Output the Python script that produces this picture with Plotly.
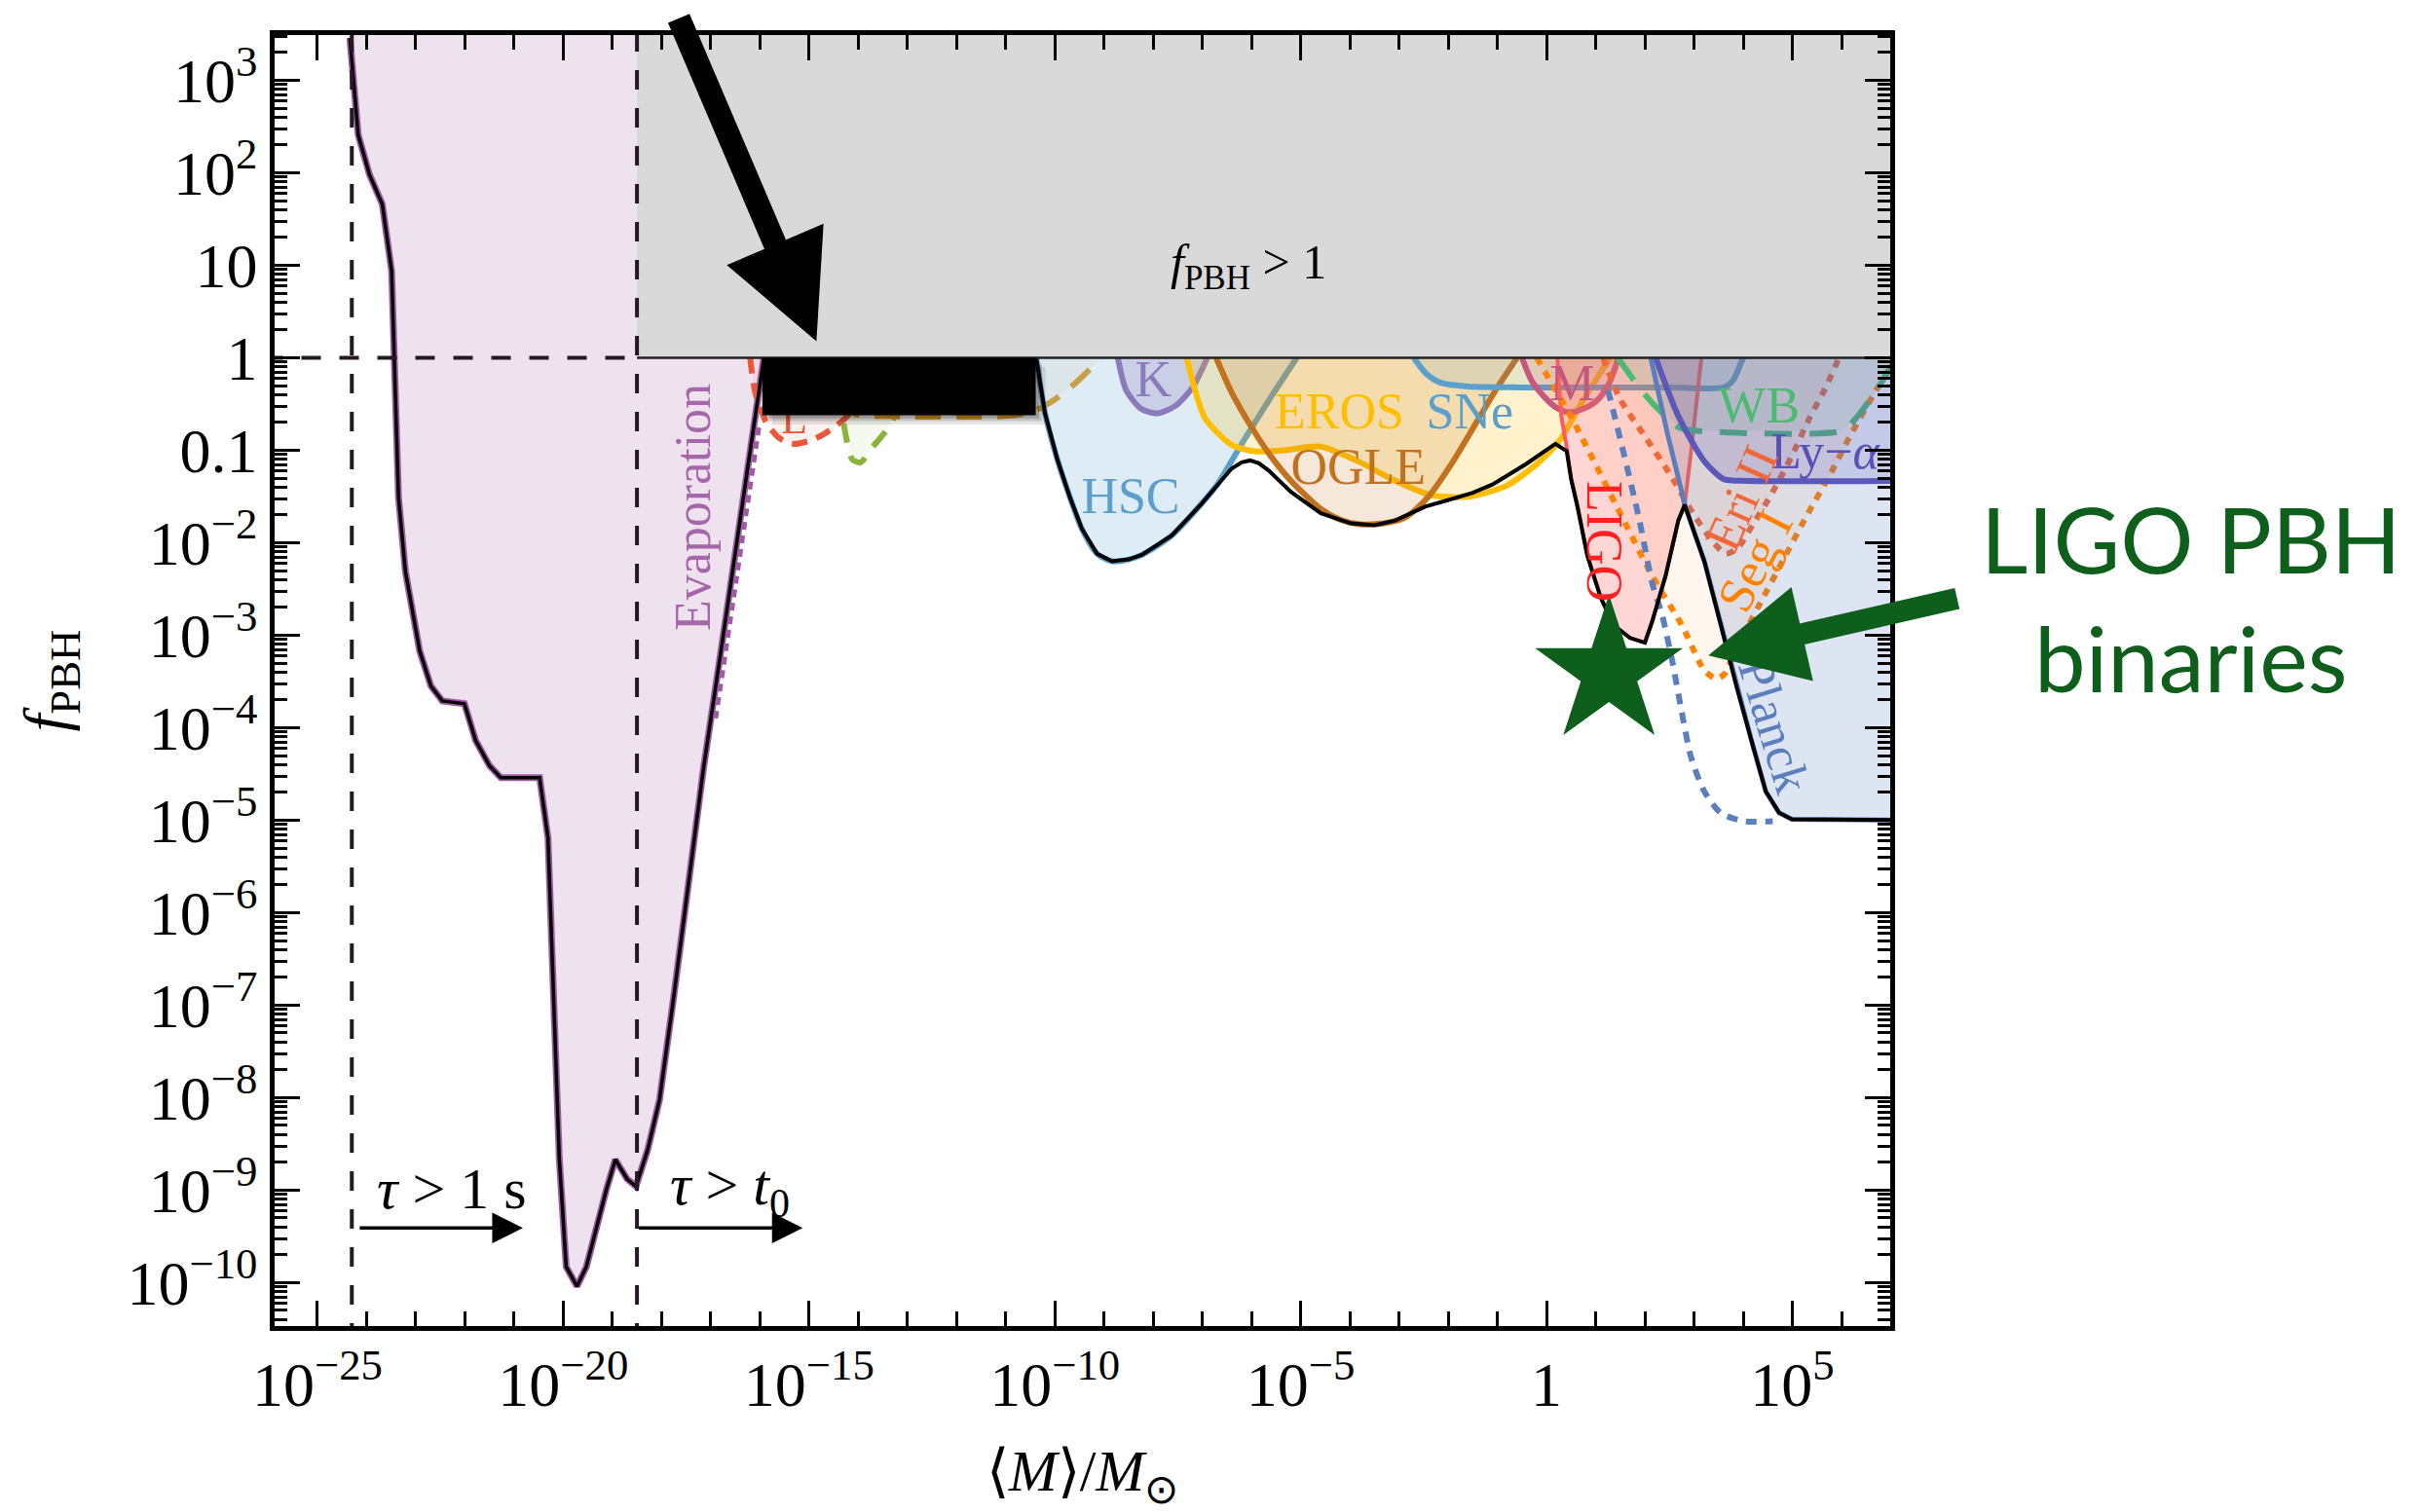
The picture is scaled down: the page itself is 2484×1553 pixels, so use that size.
import numpy as np
import plotly.graph_objects as go

# ---------------------------------------------------------------- data
# every value below is log10(<M>/Msun) (…_lm) or log10(f_PBH) (…_lf)
evap_lm = [-24.36, -24.34, -24.17, -23.94, -23.68, -23.49, -23.43, -23.35, -23.21, -22.92, -22.69,
           -22.46, -22.01, -21.78, -21.50, -21.27, -20.48, -20.31, -20.08, -19.94, -19.72, -19.53,
           -19.12, -18.94, -18.70, -18.52, -18.28, -18.04, -17.75, -17.45, -17.15, -16.80, -16.40,
           -16.00, -15.92, -15.90]
evap_lf = [3.6, 3.46, 2.41, 1.98, 1.66, 0.94, 0.0, -1.51, -2.31, -3.17, -3.55,
           -3.71, -3.74, -4.14, -4.41, -4.54, -4.54, -5.19, -8.66, -9.83, -10.04, -9.83,
           -8.99, -8.67, -8.88, -8.96, -8.56, -8.02, -6.90, -5.70, -4.45, -3.20, -1.75,
           -0.30, 0.0, 0.3]
evapdash_lm = [-16.90, -16.02]
evapdash_lf = [-3.90, -0.75]

L_lm = [-16.20, -16.10, -15.87, -15.60, -15.34, -15.00, -14.68, -14.22, -13.95, -13.85]
L_lf = [0.0, -0.36, -0.70, -0.87, -0.93, -0.90, -0.82, -0.63, -0.35, 0.0]
grn_lm = [-14.45, -14.35, -14.25, -14.12, -13.95, -13.70, -13.45, -13.26, -13.00, -12.85]
grn_lf = [0.0, -0.50, -0.85, -1.10, -1.13, -0.96, -0.80, -0.63, -0.30, 0.0]
gold_lm = [-14.50, -14.35, -14.10, -13.50, -11.00, -10.60, -10.36, -10.00, -9.66, -9.30, -9.07]
gold_lf = [0.0, -0.40, -0.60, -0.63, -0.63, -0.60, -0.56, -0.45, -0.31, -0.13, 0.0]

hsc_lm = [-10.38, -10.20, -9.95, -9.70, -9.45, -9.14, -8.84, -8.50, -8.23, -7.62, -7.02, -6.67,
          -6.20, -5.60, -5.08]
hsc_lf = [0.0, -0.60, -1.10, -1.50, -1.85, -2.12, -2.20, -2.18, -2.13, -1.92, -1.58, -1.35,
          -0.93, -0.42, 0.0]
k_lm = [-8.72, -8.55, -8.25, -7.92, -7.55, -7.20, -6.90]
k_lf = [0.0, -0.35, -0.55, -0.60, -0.52, -0.32, 0.0]
eros_lm = [-7.32, -7.15, -6.94, -6.41, -5.95, -5.35, -4.59, -3.83, -3.08, -2.32, -1.56, -0.80,
           -0.20, 0.26, 0.70, 1.05, 1.30]
eros_lf = [0.0, -0.35, -0.66, -0.94, -1.01, -1.00, -0.96, -1.12, -1.33, -1.49, -1.50, -1.38,
           -1.15, -0.90, -0.50, -0.20, 0.0]
ogle_lm = [-6.72, -6.40, -6.00, -5.60, -5.20, -4.60, -4.20, -3.80, -3.30, -2.85, -2.40, -1.90,
           -1.45, -1.00, -0.60]
ogle_lf = [0.0, -0.38, -0.75, -1.07, -1.33, -1.63, -1.75, -1.80, -1.79, -1.72, -1.50, -1.12,
           -0.72, -0.32, 0.0]
sne_lm = [-2.70, -2.45, -2.15, -1.60, -0.50, 1.00, 2.50, 3.60, 3.80, 3.96, 4.00]
sne_lf = [0.0, -0.17, -0.27, -0.31, -0.32, -0.32, -0.32, -0.32, -0.24, -0.05, 0.0]
macho_lm = [-0.50, -0.30, -0.05, 0.20, 0.45, 0.75, 1.03, 1.25, 1.40, 1.45]
macho_lf = [0.0, -0.25, -0.42, -0.54, -0.59, -0.55, -0.46, -0.30, -0.10, 0.0]
ligo_lm = [0.22, 0.30, 0.42, 0.50, 0.63, 0.83, 1.10, 1.36, 1.70, 2.00, 2.15, 2.42, 2.68, 2.81,
           2.94, 3.05, 3.15]
ligo_lf = [0.0, -0.63, -1.00, -1.31, -1.61, -2.14, -2.59, -2.89, -3.03, -3.08, -2.85, -2.36,
           -1.76, -1.59, -1.01, -0.50, 0.0]
seg_lm = [-0.20, 0.57, 1.43, 2.15, 2.75, 3.21, 3.45, 3.62, 3.85, 4.30, 4.80, 5.30, 5.75, 6.20,
          6.65, 7.00, 7.30]
seg_lf = [0.0, -0.71, -1.61, -2.36, -2.89, -3.38, -3.47, -3.42, -3.15, -2.70, -2.20, -1.70,
          -1.28, -0.82, -0.40, -0.08, 0.3]
eri_lm = [1.15, 1.50, 2.00, 2.50, 3.00, 3.40, 3.65, 3.90, 4.20, 4.60, 5.00, 5.35, 5.65, 5.95]
eri_lf = [0.0, -0.45, -0.85, -1.25, -1.70, -2.00, -2.12, -2.05, -1.80, -1.45, -1.05, -0.65,
          -0.35, 0.0]
bdot_lm = [1.25, 1.56, 1.89, 2.15, 2.35, 2.55, 2.75, 2.94, 3.21, 3.54, 4.00, 4.60]
bdot_lf = [-0.35, -1.01, -1.76, -2.44, -2.78, -3.26, -3.83, -4.32, -4.69, -4.92, -5.01, -5.01]
wb_lm = [1.45, 2.02, 2.68, 3.08, 6.00, 6.30, 6.62, 6.95, 7.10]
wb_lf = [0.0, -0.41, -0.75, -0.79, -0.79, -0.65, -0.42, -0.15, 0.0]
lya_lm = [2.22, 2.68, 3.21, 3.60, 3.96, 7.20]
lya_lf = [0.0, -0.63, -1.12, -1.31, -1.33, -1.33]
planck_lm = [2.12, 2.45, 2.75, 2.81, 3.21, 3.54, 3.87, 4.20, 4.46, 4.73, 4.99, 7.20]
planck_lf = [0.0, -0.80, -1.45, -1.59, -2.20, -2.88, -3.57, -4.20, -4.69, -4.92, -4.99, -5.00]

# combined bound (black curve)
env_lm = [-10.38, -10.20, -9.95, -9.70, -9.45, -9.14, -8.84, -8.50, -8.23, -7.62, -7.02, -6.65,
          -6.41, -6.20, -6.03, -5.85, -5.65, -5.20, -4.59, -3.98, -3.50, -3.08, -2.47, -2.01,
          -1.50, -1.10, -0.42, 0.18, 0.41, 0.50, 0.63, 0.83, 1.10, 1.36, 1.70, 2.00, 2.15, 2.42,
          2.68, 2.81, 3.21, 3.54, 3.87, 4.20, 4.46, 4.73, 4.99, 7.20]
env_lf = [0.0, -0.60, -1.10, -1.50, -1.85, -2.12, -2.20, -2.18, -2.13, -1.92, -1.58, -1.35,
          -1.20, -1.13, -1.11, -1.14, -1.22, -1.45, -1.68, -1.79, -1.81, -1.76, -1.61, -1.54,
          -1.46, -1.37, -1.15, -0.93, -1.01, -1.31, -1.61, -2.14, -2.59, -2.89, -3.03, -3.08,
          -2.85, -2.36, -1.76, -1.59, -2.20, -2.88, -3.57, -4.20, -4.69, -4.92, -4.99, -5.00]

# special lines / boxes
tau_1s_lm = -24.30          # lifetime = 1 s
tau_t0_lm = -18.50          # lifetime = age of universe
fpbh_one_lf = 0.0           # f_PBH = 1
box_lm = [-15.95, -10.39]   # black box
box_lf = [-0.62, 0.0]
star_lm = [1.27]
star_lf = [-3.40]

# axis ticks
x_major_exp = [-25, -20, -15, -10, -5, 0, 5]
x_major_txt = ["10<sup>\u221225</sup>", "10<sup>\u221220</sup>", "10<sup>\u221215</sup>",
               "10<sup>\u221210</sup>", "10<sup>\u22125</sup>", "1", "10<sup>5</sup>"]
y_major_exp = [-10, -9, -8, -7, -6, -5, -4, -3, -2, -1, 0, 1, 2, 3]
y_major_txt = ["10<sup>\u221210</sup>", "10<sup>\u22129</sup>", "10<sup>\u22128</sup>",
               "10<sup>\u22127</sup>", "10<sup>\u22126</sup>", "10<sup>\u22125</sup>",
               "10<sup>\u22124</sup>", "10<sup>\u22123</sup>", "10<sup>\u22122</sup>",
               "0.1", "1", "10", "10<sup>2</sup>", "10<sup>3</sup>"]


def P(v):
    return np.power(10.0, np.asarray(v, dtype=float))


TOP = 4.5          # log10 height used to close excluded regions (above plotted range)
SERIF = "Liberation Serif, Times New Roman, serif"
XR = [-25.87, 6.99]
YR = [-10.47, 3.49]

fig = go.Figure()


def add_fill(lm, lf, color):
    xs = list(lm) + [lm[-1], lm[0]]
    ys = list(lf) + [TOP, TOP]
    fig.add_trace(go.Scatter(x=P(xs), y=P(ys), mode="lines", fill="toself", fillcolor=color,
                             line=dict(width=0, color=color), hoverinfo="skip", showlegend=False))


def add_line(lm, lf, color, width, dash="solid", smooth=False):
    fig.add_trace(go.Scatter(x=P(lm), y=P(lf), mode="lines",
                             line=dict(color=color, width=width, dash=dash,
                                       shape="spline" if smooth else "linear",
                                       smoothing=0.7 if smooth else None),
                             hoverinfo="skip", showlegend=False))


# evaporation region
add_fill(evap_lm, evap_lf, "rgba(160,82,160,0.17)")
add_line(evap_lm[1:-1], evap_lf[1:-1], "#a25aa6", 7)
add_line(evapdash_lm, evapdash_lf, "#a25aa6", 5, "8px,6px")

# small-mass constraints
add_fill(L_lm, L_lf, "rgba(234,87,59,0.08)")
add_line(L_lm, L_lf, "#ea573b", 6, "16px,10px", True)
add_fill(grn_lm, grn_lf, "rgba(140,180,60,0.08)")
add_line(grn_lm, grn_lf, "#8cb43c", 6, "20px,14px", True)
add_fill(gold_lm, gold_lf, "rgba(227,160,38,0.07)")
add_line(gold_lm, gold_lf, "#e3a026", 6, "26px,16px", True)

# microlensing etc.
add_fill(hsc_lm, hsc_lf, "rgba(91,159,203,0.20)")
add_line(hsc_lm, hsc_lf, "#5b9fcb", 6, smooth=True)
add_fill(k_lm, k_lf, "rgba(139,123,189,0.25)")
add_line(k_lm, k_lf, "#8b7bbd", 6, smooth=True)
add_fill(eros_lm, eros_lf, "rgba(255,191,0,0.20)")
add_line(eros_lm, eros_lf, "#ffbf00", 6, smooth=True)
add_fill(ogle_lm, ogle_lf, "rgba(194,113,31,0.17)")
add_line(ogle_lm, ogle_lf, "#c2711f", 6, smooth=True)
add_fill(sne_lm, sne_lf, "rgba(91,159,203,0.15)")
add_line(sne_lm, sne_lf, "#5b9fcb", 6, smooth=True)
add_fill(macho_lm, macho_lf, "rgba(196,88,127,0.20)")
add_line(macho_lm, macho_lf, "#c4587f", 6, smooth=True)
add_fill(ligo_lm, ligo_lf, "rgba(255,90,90,0.25)")
add_line(ligo_lm, ligo_lf, "#ff5a5a", 4)
add_fill(seg_lm, seg_lf, "rgba(255,160,60,0.09)")
add_line(seg_lm, seg_lf, "#ff8200", 6, "8px,8px", True)
add_fill(eri_lm, eri_lf, "rgba(240,104,58,0.08)")
add_line(eri_lm, eri_lf, "#f0683a", 6, "8px,8px", True)
add_line(bdot_lm, bdot_lf, "#5b7fbd", 6, "11px,9px", True)
add_fill(wb_lm, wb_lf, "rgba(76,186,111,0.10)")
add_line(wb_lm, wb_lf, "#4cba6f", 6, "28px,18px", True)
add_fill(lya_lm, lya_lf, "rgba(91,79,184,0.20)")
add_line(lya_lm, lya_lf, "#5b4fb8", 6, smooth=True)
add_fill(planck_lm, planck_lf, "rgba(91,127,189,0.20)")
add_line(planck_lm, planck_lf, "#5b7fbd", 5)

# combined bound
add_line(env_lm, env_lf, "black", 4)
add_line(evap_lm[1:-1], evap_lf[1:-1], "black", 3.5)

# "L" label sits below the black box
fig.add_trace(go.Scatter(x=P([-15.3]), y=P([-0.70]), mode="text", text=["L"],
                         textfont=dict(family=SERIF, size=44, color="#ea573b"),
                         hoverinfo="skip", showlegend=False))

# f_PBH > 1 region
fig.add_trace(go.Scatter(x=P([tau_t0_lm, XR[1] + 0.5, XR[1] + 0.5, tau_t0_lm]),
                         y=P([fpbh_one_lf, fpbh_one_lf, TOP, TOP]), mode="lines", fill="toself",
                         fillcolor="#d9d9d9", line=dict(width=0, color="#d9d9d9"),
                         hoverinfo="skip", showlegend=False))
fig.add_trace(go.Scatter(x=P([tau_t0_lm, XR[1] + 0.5]), y=P([fpbh_one_lf, fpbh_one_lf]),
                         mode="lines", line=dict(color="#222", width=2.5),
                         hoverinfo="skip", showlegend=False))
# dashed guide lines
for lm in (tau_1s_lm, tau_t0_lm):
    fig.add_trace(go.Scatter(x=P([lm, lm]), y=P([YR[0] - 1, TOP]), mode="lines",
                             line=dict(color="#231a24", width=4, dash="20px,19px"),
                             hoverinfo="skip", showlegend=False))
fig.add_trace(go.Scatter(x=P([XR[0] - 1, tau_t0_lm]), y=P([fpbh_one_lf, fpbh_one_lf]), mode="lines",
                         line=dict(color="#231a24", width=4, dash="20px,19px"),
                         hoverinfo="skip", showlegend=False))

# black box with soft shadow
for dx, dy, a in ((0.20, 0.10, 0.10), (0.13, 0.065, 0.15), (0.07, 0.035, 0.2)):
    fig.add_trace(go.Scatter(
        x=P([box_lm[0] + dx, box_lm[1] + dx, box_lm[1] + dx, box_lm[0] + dx]),
        y=P([box_lf[0] - dy, box_lf[0] - dy, box_lf[1] - dy, box_lf[1] - dy]),
        mode="lines", fill="toself", fillcolor=f"rgba(0,0,0,{a})", line=dict(width=0),
        hoverinfo="skip", showlegend=False))
fig.add_trace(go.Scatter(x=P([box_lm[0], box_lm[1], box_lm[1], box_lm[0]]),
                         y=P([box_lf[0], box_lf[0], box_lf[1], box_lf[1]]),
                         mode="lines", fill="toself", fillcolor="black", line=dict(width=0),
                         hoverinfo="skip", showlegend=False))

# region labels (horizontal)
lab_lm = [-8.46, -8.00, -4.21, -1.56, -3.83, 0.52, 4.32]
lab_lf = [-1.54, -0.28, -0.63, -0.63, -1.23, -0.32, -0.56]
lab_txt = ["HSC", "K", "EROS", "SNe", "OGLE", "M", "WB"]
lab_col = ["#5b9fcb", "#8b7bbd", "#ffbf00", "#5b9fcb", "#c2711f", "#c4587f", "#4cba6f"]
fig.add_trace(go.Scatter(x=P(lab_lm), y=P(lab_lf), mode="text", text=lab_txt,
                         textfont=dict(family=SERIF, size=52, color=lab_col),
                         hoverinfo="skip", showlegend=False))
fig.add_trace(go.Scatter(x=P([4.56]), y=P([-1.06]), mode="text", text=["Ly\u2212<i>\u03b1</i>"],
                         textposition="middle right",
                         textfont=dict(family=SERIF, size=52, color="#5b4fb8"),
                         hoverinfo="skip", showlegend=False))

# green star
fig.add_trace(go.Scatter(x=P(star_lm), y=P(star_lf), mode="markers",
                         marker=dict(symbol="star", size=114, color="#0d5f1b", line=dict(width=0)),
                         hoverinfo="skip", showlegend=False))

ann = []


def rlabel(text, lm, lf, angle, color, size=52):
    ann.append(dict(x=lm, y=lf, xref="x", yref="y", text=text, textangle=angle, showarrow=False,
                    font=dict(family=SERIF, size=size, color=color)))


rlabel("Evaporation", -17.36, -1.62, -90, "#a566aa")
rlabel("LIGO", 1.18, -1.98, 90, "#ff1f1f")
rlabel("Eri II", 3.97, -1.52, -66, "#f0683a")
rlabel("Seg I", 4.23, -2.20, -63, "#ff8200")
rlabel("Planck", 4.63, -3.98, 73, "#5b7fbd")
rlabel("<i>f</i><sub>PBH</sub> &gt; 1", -6.07, 1.0, 0, "black", 50)
rlabel("<i>\u03c4</i> &gt; 1 s", -22.27, -8.99, 0, "black", 60)
rlabel("<i>\u03c4</i> &gt; <i>t</i><sub>0</sub>", -16.61, -8.99, 0, "black", 60)

# tau arrows
for x0, x1 in ((-24.17, -20.82), (-18.49, -15.13)):
    ann.append(dict(x=x1, y=-9.41, ax=x0, ay=-9.41, xref="x", yref="y", axref="x", ayref="y",
                    text="", showarrow=True, arrowhead=2, arrowsize=1.8, arrowwidth=3.5,
                    arrowcolor="black", standoff=0))
# big hand-drawn style arrows
ann.append(dict(x=-14.85, y=0.18, xref="x", yref="y", ax=-142, ay=-333, text="", showarrow=True,
                arrowhead=2, arrowsize=0.9, arrowwidth=24, arrowcolor="black", standoff=0))
ann.append(dict(x=3.29, y=-3.22, xref="x", yref="y", ax=257, ay=-59, text="", showarrow=True,
                arrowhead=2, arrowsize=0.9, arrowwidth=22, arrowcolor="#0d5f1b", standoff=0))
# side text
ann.append(dict(x=1.186, y=0.5645, xref="paper", yref="paper", text="LIGO PBH<br>binaries",
                showarrow=False, xanchor="center", yanchor="middle", align="center",
                font=dict(family="Lato, Open Sans, sans-serif", size=94, color="#0d5f1b")))

x_minor = [e for e in range(-26, 8) if e not in x_major_exp]
y_minor = [np.log10(k) + e for e in range(-11, 4) for k in range(2, 10)]

fig.update_layout(
    width=2484, height=1553,
    margin=dict(l=282, r=543, t=36, b=191),
    paper_bgcolor="white", plot_bgcolor="white",
    showlegend=False, hovermode=False,
    annotations=ann,
    xaxis=dict(type="log", range=XR, tickmode="array", tickvals=P(x_major_exp), ticktext=x_major_txt,
               ticks="inside", ticklen=26, tickwidth=3, tickcolor="black",
               showline=True, linewidth=4.5, linecolor="black", mirror="ticks",
               showgrid=False, zeroline=False,
               minor=dict(tickmode="array", tickvals=P(x_minor), ticks="inside", ticklen=15,
                          tickwidth=3, tickcolor="black", showgrid=False),
               tickfont=dict(family=SERIF, size=64, color="black"),
               title=dict(text="\u27e8<i>M</i>\u27e9/<i>M</i><sub>\u2299</sub>",
                          font=dict(family=SERIF, size=60, color="black"), standoff=36)),
    yaxis=dict(type="log", range=YR, tickmode="array", tickvals=P(y_major_exp), ticktext=y_major_txt,
               ticks="inside", ticklen=26, tickwidth=3, tickcolor="black",
               showline=True, linewidth=4.5, linecolor="black", mirror="ticks",
               showgrid=False, zeroline=False,
               minor=dict(tickmode="array", tickvals=P(y_minor), ticks="inside", ticklen=13,
                          tickwidth=3, tickcolor="black", showgrid=False),
               tickfont=dict(family=SERIF, size=64, color="black"),
               title=dict(text="<i>f</i><sub>PBH</sub>",
                          font=dict(family=SERIF, size=64, color="black"), standoff=42)),
)

fig.write_html("out.html")
